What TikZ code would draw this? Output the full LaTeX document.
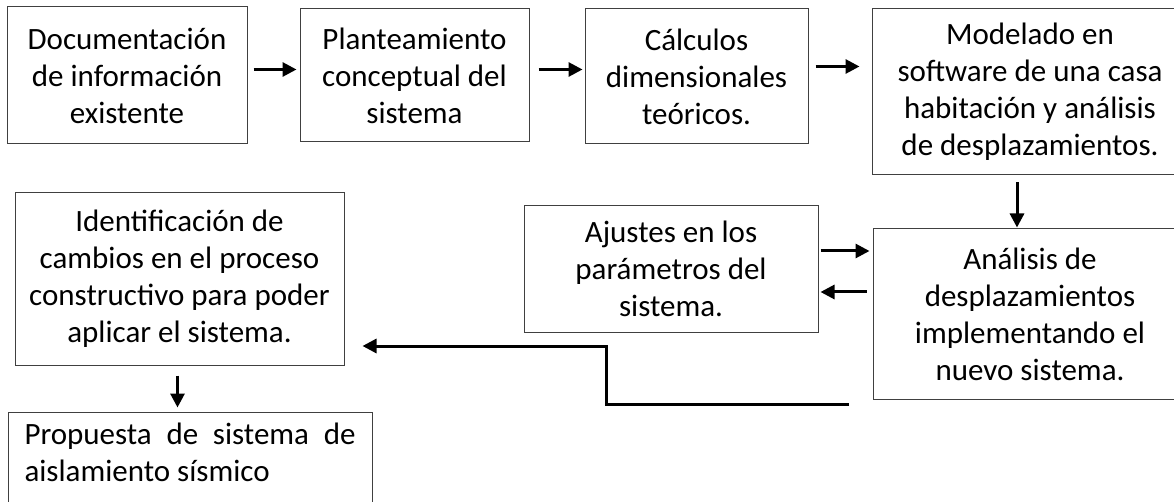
\documentclass[tikz,border=0pt]{standalone}
\usepackage{fontspec}
\setmainfont{Carlito}
\usetikzlibrary{arrows.meta, positioning, calc}

\begin{document}
\begin{tikzpicture}[x=1pt, y=-1pt, >={Triangle[length=14pt, width=14pt]},
    etapa/.style={rectangle, draw=black!75, line width=1pt, align=center, inner sep=0pt,
      font=\fontsize{31}{37}\selectfont},
    flecha/.style={->, line width=3pt}]
  \clip (0,0) rectangle (1174,502);

  \node[etapa, minimum width=240pt, minimum height=137pt] (doc) at (127,75.5) {Documentación\\de información\\existente};
  \node[etapa, minimum width=229pt, minimum height=133pt] (plan) at (414.5,75.5) {Planteamiento\\conceptual del\\sistema};
  \node[etapa, minimum width=223pt, minimum height=135pt] (calc) at (696.5,76.5) {Cálculos\\dimensionales\\teóricos.};
  \node[etapa, minimum width=316pt, minimum height=166pt] (model) at (1030,92) {Modelado en\\software de una casa\\habitación y análisis\\de desplazamientos.};
  \node[etapa, minimum width=294pt, minimum height=126pt] (ajus) at (671,269) {Ajustes en los\\parámetros del\\sistema.};
  \node[etapa, minimum width=314pt, minimum height=170pt] (anal) at (1030,314) {Análisis de\\desplazamientos\\implementando el\\nuevo sistema.};
  \node[etapa, minimum width=329pt, minimum height=172pt] (ident) at (179.5,279) {Identificación de\\cambios en el proceso\\constructivo para poder\\aplicar el sistema.};
  \node[etapa, align=left, minimum width=364pt, minimum height=128pt] (prop) at (190,476) {\makebox[331pt][s]{Propuesta de sistema de}\\aislamiento sísmico\\ \strut};

  \coordinate (c1) at ([yshift=10pt]calc.east);
  \coordinate (m1) at ([xshift=-13pt]model.south);
  \coordinate (fb) at (849,404);
  \coordinate (bend) at (606,346);

  \draw[flecha, shorten <=6pt, shorten >=3pt] ([yshift=6pt]doc.east) -- ([yshift=6pt]doc.east -| plan.west);
  \draw[flecha, shorten <=9pt, shorten >=2pt] ([yshift=6pt]plan.east) -- ([yshift=6pt]plan.east -| calc.west);
  \draw[flecha, shorten <=7pt, shorten >=12pt] (c1) -- (c1 -| model.west);
  \draw[flecha, shorten <=7pt, shorten >=1pt] (m1) -- (m1 |- anal.north);
  \draw[flecha, shorten <=2pt, shorten >=3pt] ([yshift=18pt]ajus.east) -- ([yshift=18pt]ajus.east -| anal.west);
  \draw[flecha, shorten <=6pt, shorten >=2pt] ([yshift=22pt]anal.west) -- ([yshift=22pt]anal.west -| ajus.east);
  \draw[flecha, shorten >=18pt] (fb) -| (bend) -- (bend -| ident.east);
  \draw[flecha, shorten <=10pt, shorten >=4pt] ([xshift=-2pt]ident.south) -- ([xshift=-2pt]ident.south |- prop.north);
\end{tikzpicture}
\end{document}
